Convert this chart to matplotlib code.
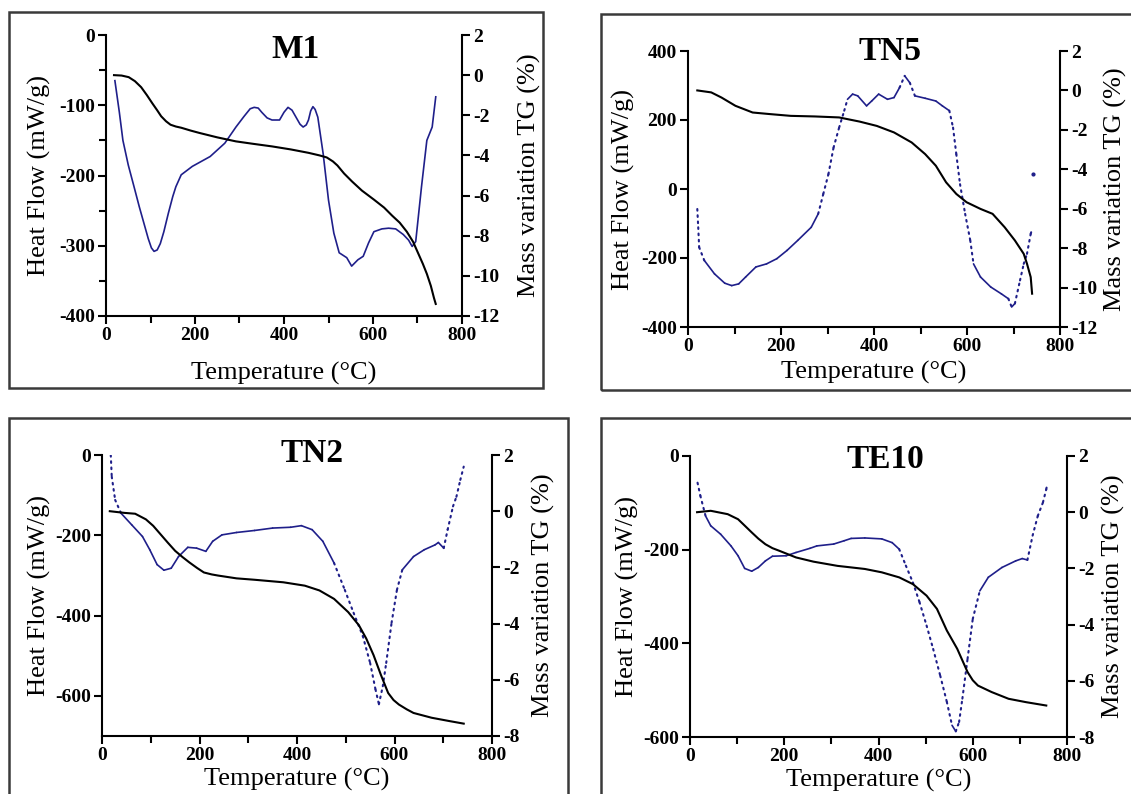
import matplotlib.pyplot as plt
from matplotlib.patches import Rectangle
from matplotlib.ticker import MultipleLocator

plt.rcParams['font.family'] = ['Liberation Serif', 'DejaVu Serif']
plt.rcParams['axes.unicode_minus'] = False

W, H = 1131, 794

# ---- M1 ----
m1_dsc_t = [20, 30, 38, 50, 63, 75, 87, 95, 102, 108, 115, 122, 130, 140, 150, 157, 169, 194, 234,
            267, 292, 310, 324, 333, 342, 350, 362, 373, 390, 400, 409, 418, 427, 436, 443, 450,
            455, 460, 465, 470, 476, 488, 500, 512, 524, 541, 552, 566, 578, 590, 602, 620, 635,
            651, 668, 680, 688, 696, 709, 721, 733, 741]
m1_dsc = [-65, -110, -150, -185, -216, -245, -272, -290, -303, -308, -306, -297, -280, -254, -230,
          -216, -199, -187, -173, -154, -131, -116, -105, -103, -104, -110, -118, -121, -121, -110,
          -103, -107, -117, -127, -131, -128, -121, -108, -102, -106, -117, -169, -235, -282, -310,
          -317, -329, -320, -315, -296, -280, -276, -275, -276, -284, -292, -301, -294, -216, -150,
          -131, -88]
m1_tg_t = [18, 35, 51, 65, 79, 92, 104, 115, 124, 135, 145, 157, 169, 190, 210, 250, 292, 330, 373,
           415, 455, 480, 496, 510, 520, 535, 553, 575, 602, 625, 643, 660, 676, 690, 700, 712, 721,
           730, 737, 741]
m1_tg = [0.0, -0.02, -0.1, -0.3, -0.6, -1.0, -1.4, -1.75, -2.05, -2.3, -2.47, -2.56, -2.62, -2.76,
         -2.88, -3.1, -3.3, -3.42, -3.55, -3.7, -3.87, -4.0, -4.1, -4.3, -4.5, -4.9, -5.3, -5.75,
         -6.2, -6.6, -7.0, -7.35, -7.8, -8.3, -8.8, -9.4, -9.9, -10.5, -11.1, -11.4]

# ---- TN5 ----
tn5_dsc_t = [20, 22, 24, 35, 57, 79, 94, 109, 124, 146, 169, 191, 213, 236, 265, 280, 291, 302,
             313, 325, 336, 343, 354, 365, 384, 395, 410, 429, 443, 455, 466, 477, 488, 510, 533,
             547, 562, 570, 577, 585, 596, 607, 614, 629, 651, 674, 689, 696, 703, 714, 722, 729,
             737, 740]
tn5_dsc = [-58, -111, -169, -207, -246, -273, -280, -275, -255, -226, -217, -202, -178, -149, -111,
           -72, -14, 43, 120, 178, 227, 260, 275, 270, 241, 255, 275, 260, 265, 294, 328, 308, 270,
           263, 255, 241, 227, 178, 101, 14, -72, -149, -217, -255, -284, -304, -318, -342, -332,
           -265, -217, -188, -130, -116]
tn5_stray_t = [742]
tn5_stray = [43]
tn5_tg_t = [20, 50, 72, 102, 139, 176, 221, 273, 325, 369, 406, 443, 481, 510, 533, 555, 577, 599,
            629, 655, 681, 703, 722, 729, 737, 740]
tn5_tg = [0.0, -0.1, -0.36, -0.78, -1.12, -1.2, -1.29, -1.32, -1.37, -1.58, -1.8, -2.13, -2.64,
          -3.23, -3.82, -4.66, -5.25, -5.67, -6.01, -6.26, -6.94, -7.61, -8.29, -8.79, -9.47, -10.31]

# ---- TN2 ----
tn2_dsc_t = [18, 20, 27, 39, 61, 83, 98, 113, 127, 142, 157, 176, 194, 213, 227, 246, 276, 313,
             350, 387, 409, 431, 453, 476, 498, 516, 535, 550, 561, 568, 576, 583, 594, 605, 616,
             639, 661, 683, 690, 701, 709, 720, 727, 735, 742]
tn2_dsc = [0, -54, -112, -145, -174, -203, -236, -273, -287, -282, -253, -230, -232, -240, -215,
           -199, -193, -188, -182, -180, -176, -186, -215, -269, -336, -393, -451, -518, -584, -621,
           -576, -518, -418, -336, -286, -253, -236, -224, -218, -232, -186, -128, -104, -62, -29]
tn2_tg_t = [16, 46, 68, 90, 105, 120, 135, 150, 165, 179, 195, 209, 225, 238, 276, 313, 372, 416,
            446, 476, 505, 527, 542, 557, 572, 587, 598, 609, 625, 639, 676, 713, 742]
tn2_tg = [0.0, -0.06, -0.09, -0.29, -0.52, -0.82, -1.12, -1.41, -1.63, -1.82, -2.02, -2.18, -2.25,
          -2.29, -2.39, -2.44, -2.53, -2.65, -2.82, -3.12, -3.59, -4.06, -4.53, -5.12, -5.82, -6.47,
          -6.72, -6.88, -7.05, -7.18, -7.35, -7.47, -7.56]

# ---- TE10 ----
te10_dsc_t = [16, 22, 33, 44, 65, 87, 102, 116, 131, 145, 160, 175, 204, 225, 255, 269, 305, 327,
              342, 371, 407, 429, 444, 458, 473, 487, 502, 516, 531, 545, 556, 564, 571, 578, 589,
              600, 615, 633, 662, 691, 705, 716, 727, 738, 749, 756, 758]
te10_dsc = [-57, -85, -128, -149, -167, -192, -213, -240, -246, -238, -224, -214, -213, -206, -197,
            -192, -188, -181, -176, -175, -177, -185, -199, -234, -270, -312, -362, -412, -469, -525,
            -575, -588, -568, -518, -433, -348, -288, -259, -238, -224, -219, -222, -170, -128, -99,
            -71, -60]
te10_tg_t = [15, 44, 80, 102, 115, 131, 145, 160, 175, 189, 225, 262, 313, 371, 407, 444, 473, 502,
             524, 545, 567, 589, 600, 611, 640, 676, 713, 756]
te10_tg = [0.0, 0.05, -0.07, -0.25, -0.46, -0.72, -0.94, -1.14, -1.28, -1.37, -1.61, -1.76, -1.91,
           -2.02, -2.14, -2.32, -2.56, -2.97, -3.44, -4.21, -4.86, -5.69, -5.98, -6.17, -6.4, -6.64,
           -6.76, -6.88]

BLUE = '#1f1f8a'
TICK_FONT = dict(family='Liberation Serif', weight='bold', size=14)

fig = plt.figure(figsize=(W / 100, H / 100), dpi=100)


def px_rect(l, t, r, b):
    return [l / W, 1 - b / H, (r - l) / W, (b - t) / H]


def plot_dsc(ax, t, v, dotted):
    # fast-changing stretches of the trace show up as separate points, so draw
    # steep segments dotted and the rest as a continuous line
    if not dotted:
        ax.plot(t, v, color=BLUE, lw=1.2)
        return
    pts = ax.transData.transform(list(zip(t, v)))
    for i in range(len(t) - 1):
        dx = abs(pts[i + 1][0] - pts[i][0])
        dy = abs(pts[i + 1][1] - pts[i][1])
        steep = dy > 2.1 * dx
        ax.plot(t[i:i + 2], v[i:i + 2], color=BLUE,
                lw=1.5 if steep else 1.2,
                ls=(0, (0.8, 2.2)) if steep else '-',
                solid_capstyle='round', dash_capstyle='round')


def panel(box, frame, title, title_xy, dsc_t, dsc, tg_t, tg, hf_lim, hf_ticks, hf_minor,
          tg_lim, tg_ticks, pads, dotted):
    # outer frame around each panel
    fl, ft, fr, fb = frame
    fig.patches.append(Rectangle((fl / W, 1 - fb / H), (fr - fl) / W, (fb - ft) / H,
                                 transform=fig.transFigure, fill=False, edgecolor='#3a3a3a',
                                 linewidth=1.8, zorder=0))
    ax = fig.add_axes(px_rect(*box))
    ax2 = ax.twinx()
    ax.set_xlim(0, 800)
    ax.set_ylim(*hf_lim)
    ax2.set_ylim(*tg_lim)

    plot_dsc(ax, dsc_t, dsc, dotted)
    ax2.plot(tg_t, tg, color='black', lw=1.5)

    ax.set_xticks([0, 200, 400, 600, 800])
    ax.xaxis.set_minor_locator(MultipleLocator(100))
    ax.set_yticks(hf_ticks)
    if hf_minor:
        ax.yaxis.set_minor_locator(MultipleLocator(hf_minor))
    ax2.set_yticks(tg_ticks)

    for a in (ax, ax2):
        a.spines['top'].set_visible(False)
        a.patch.set_visible(False)
        for s in a.spines.values():
            s.set_linewidth(1.5)
        a.tick_params(which='both', direction='out', width=1.5, colors='black')
        a.tick_params(which='major', length=6, pad=2)
        a.tick_params(which='minor', length=5)
        for lab in a.get_xticklabels() + a.get_yticklabels():
            lab.set_fontproperties(TICK_FONT)
    ax.spines['right'].set_visible(False)
    ax2.spines['left'].set_visible(False)
    ax2.spines['bottom'].set_visible(False)

    xpad, lpad, rpad = pads
    ax.set_xlabel('Temperature (°C)', fontsize=19, labelpad=xpad)
    ax.set_ylabel('Heat Flow (mW/g)', fontsize=19, labelpad=lpad)
    ax2.set_ylabel('Mass variation TG (%)', fontsize=19, labelpad=rpad)
    fig.text(title_xy[0] / W, 1 - title_xy[1] / H, title, ha='center', va='center',
             fontsize=24, fontweight='bold')
    return ax, ax2


panel((106, 35, 462, 316), (9, 12, 543, 388), 'M1', (295, 49), m1_dsc_t, m1_dsc, m1_tg_t, m1_tg,
      (-400, 0), range(-400, 1, 100), 50, (-12, 2), range(-12, 3, 2), (13, 6, 13), False)

ax, ax2 = panel((688, 51, 1060, 327), (601, 14, 1140, 390), 'TN5', (890, 51), tn5_dsc_t, tn5_dsc,
                tn5_tg_t, tn5_tg, (-400, 400), range(-400, 401, 200), None, (-12, 2),
                range(-12, 3, 2), (4, 4, 5), True)
ax.plot(tn5_stray_t, tn5_stray, 'o', color=BLUE, ms=2)

panel((102, 455, 492, 736), (9, 418, 568, 810), 'TN2', (312, 453), tn2_dsc_t, tn2_dsc, tn2_tg_t,
      tn2_tg, (-700, 0), range(-600, 1, 200), None, (-8, 2), range(-8, 3, 2), (3, 3, 9), True)

panel((690, 456, 1067, 737), (601, 418, 1140, 810), 'TE10', (885, 459), te10_dsc_t, te10_dsc,
      te10_tg_t, te10_tg, (-600, 0), range(-600, 1, 200), None, (-8, 2), range(-8, 3, 2),
      (3, 3, 5), True)

fig.savefig('out.png', dpi=100)
